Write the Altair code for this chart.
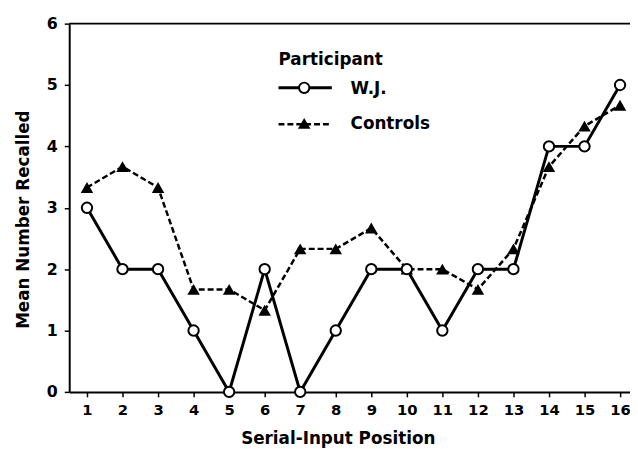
import altair as alt
import pandas as pd

# ---- data ----
positions = list(range(1, 17))
wj_recall = [3, 2, 2, 1, 0, 2, 0, 1, 2, 2, 1, 2, 2, 4, 4, 5]
controls_recall = [3.33, 3.67, 3.33, 1.67, 1.67, 1.33, 2.33, 2.33, 2.67,
                   2.0, 2.0, 1.67, 2.33, 3.67, 4.33, 4.67]
y_ticks = [0, 1, 2, 3, 4, 5, 6]
series_names = ["W.J.", "Controls"]
legend_title = "Participant"

wj_df = pd.DataFrame({"pos": positions, "recall": wj_recall})
ct_df = pd.DataFrame({"pos": positions, "recall": controls_recall})

FONT = "DejaVu Sans"
x_scale = alt.Scale(domain=[0.5, 16.28], nice=False, zero=False)
y_scale = alt.Scale(domain=[0, 6], nice=False, zero=True)

x_axis = alt.Axis(
    values=positions, title="Serial-Input Position", grid=False, format="d",
    labelFont=FONT, labelFontWeight="bold", labelFontSize=15, labelColor="black",
    labelPadding=6, tickColor="black", tickSize=5, tickWidth=1.5,
    domainColor="black", domainWidth=2,
    titleFont=FONT, titleFontSize=17, titleFontWeight="bold", titleColor="black",
    titleX=272, titleY=52, titleBaseline="alphabetic", titleAlign="center",
)
y_axis = alt.Axis(
    values=y_ticks, title="Mean Number Recalled", grid=False, format="d",
    labelFont=FONT, labelFontWeight="bold", labelFontSize=16, labelColor="black",
    labelPadding=7, tickColor="black", tickSize=5, tickWidth=1.5,
    domainColor="black", domainWidth=2,
    titleFont=FONT, titleFontSize=17, titleFontWeight="bold", titleColor="black",
    titleX=-46, titleY=198, titleAngle=270, titleAlign="center", titleBaseline="middle",
)

X = alt.X("pos:Q", scale=x_scale, axis=x_axis)
Y = alt.Y("recall:Q", scale=y_scale, axis=y_axis)

ct_line = alt.Chart(ct_df).mark_line(color="black", strokeWidth=2.5, strokeDash=[6, 3]).encode(x=X, y=Y)
ct_pts = alt.Chart(ct_df).mark_point(shape="triangle-up", filled=True, color="black",
                                     size=160, opacity=1).encode(x=X, y=Y)
wj_line = alt.Chart(wj_df).mark_line(color="black", strokeWidth=3).encode(x=X, y=Y)
wj_pts = alt.Chart(wj_df).mark_point(shape="circle", filled=True, fill="white", stroke="black",
                                     strokeWidth=2, size=110, opacity=1).encode(x=X, y=Y)

top_rule = alt.Chart(pd.DataFrame({"v": [6]})).mark_rule(color="black", strokeWidth=2).encode(
    y=alt.Y("v:Q", scale=y_scale))

# ---- legend drawn by hand ----
lt_df = pd.DataFrame({"t": [legend_title]})
wj_lab = pd.DataFrame({"t": [series_names[0]]})
ct_lab = pd.DataFrame({"t": [series_names[1]]})
txt_kw = dict(align="left", baseline="middle", font=FONT, fontWeight="bold", fontSize=17, color="black")

leg_title = alt.Chart(lt_df).mark_text(**txt_kw).encode(
    x=alt.value(212), y=alt.value(37), text="t:N")
leg_wj_line = alt.Chart(wj_lab).mark_rule(color="black", strokeWidth=3).encode(
    x=alt.value(212), x2=alt.value(266), y=alt.value(65))
leg_wj_pt = alt.Chart(wj_lab).mark_point(shape="circle", filled=True, fill="white", stroke="black",
                                         strokeWidth=2, size=110, opacity=1).encode(
    x=alt.value(238), y=alt.value(65))
leg_wj_txt = alt.Chart(wj_lab).mark_text(**txt_kw).encode(
    x=alt.value(285), y=alt.value(66), text="t:N")
leg_ct_line = alt.Chart(ct_lab).mark_rule(color="black", strokeWidth=2.5, strokeDash=[6, 3]).encode(
    x=alt.value(212), x2=alt.value(266), y=alt.value(102))
leg_ct_pt = alt.Chart(ct_lab).mark_point(shape="triangle-up", filled=True, color="black",
                                         size=160, opacity=1).encode(
    x=alt.value(238), y=alt.value(101))
leg_ct_txt = alt.Chart(ct_lab).mark_text(**txt_kw).encode(
    x=alt.value(285), y=alt.value(102), text="t:N")

chart = alt.layer(
    top_rule, ct_line, ct_pts, wj_line, wj_pts,
    leg_title, leg_wj_line, leg_wj_pt, leg_wj_txt, leg_ct_line, leg_ct_pt, leg_ct_txt,
).properties(
    width=568, height=373,
    autosize=alt.AutoSizeParams(type="none"),
    padding={"left": 62, "top": 13, "right": 0, "bottom": 55},
    background="white",
).configure_view(stroke=None)

chart.save("out.html", embed_options={"renderer": "svg", "actions": False})
